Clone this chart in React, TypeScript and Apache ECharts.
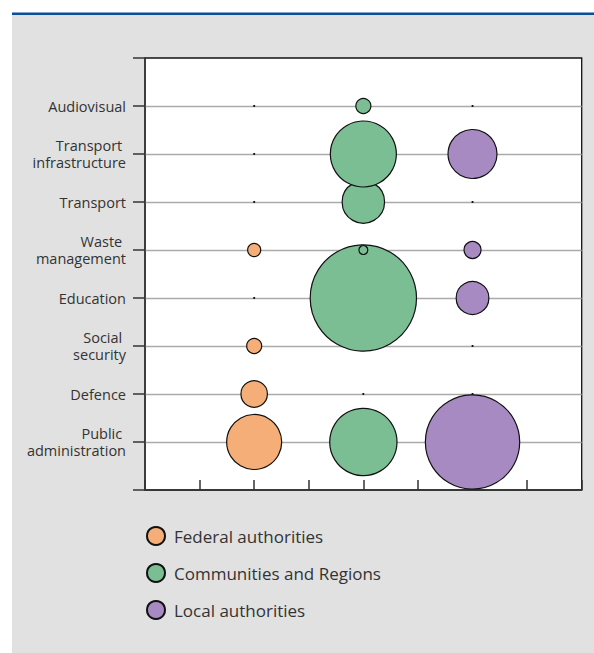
import React, { useEffect, useRef } from "react";
import * as echarts from "echarts";

// Categories listed top to bottom as displayed
const categories = [
  "Audiovisual",
  "Transport \ninfrastructure",
  "Transport",
  "Waste \nmanagement",
  "Education",
  "Social \nsecurity",
  "Defence",
  "Public \nadministration",
];

const seriesNames = ["Federal authorities", "Communities and Regions", "Local authorities"];
const seriesX = [2, 4, 6];

// Values per category (same order as categories); bubble area ~ value
const federalValues = [0, 0, 0, 1.7, 0, 2.25, 7.0, 30.3];
const communitiesValues = [2.25, 43.6, 18.0, 0.8, 113.0, 0, 0, 45.3];
const localValues = [0, 24.0, 0, 2.9, 10.7, 0, 0, 89.0];

const colors = ["#F6AE78", "#7BBE94", "#A78AC1"];

const FONT = "'Open Sans', 'Noto Sans', sans-serif";

export default function App() {
  const ref = useRef<HTMLDivElement>(null);

  useEffect(() => {
    if (!ref.current) return;
    const chart = echarts.init(ref.current, undefined, { renderer: "svg" });
    const all = [federalValues, communitiesValues, localValues];
    const n = categories.length;

    const series = all.map((vals, s) => {
      const data: number[][] = [];
      // draw from bottom row upward so upper bubbles sit on top
      for (let i = n - 1; i >= 0; i--) {
        data.push([seriesX[s], n - i, vals[i]]);
      }
      return {
        name: seriesNames[s],
        type: "scatter",
        data,
        symbol: "circle",
        symbolSize: (d: number[]) => Math.max(1, 10 * Math.sqrt(d[2])),
        itemStyle: {
          color: colors[s],
          borderColor: "#111",
          borderWidth: 1.2,
          opacity: 1,
        },
        emphasis: { disabled: true },
      };
    });

    chart.setOption({
      animation: false,
      backgroundColor: "#ffffff",
      textStyle: { fontFamily: FONT },
      graphic: [
        {
          type: "rect",
          shape: { x: 12, y: 15, width: 582, height: 638 },
          style: { fill: "#e1e1e1" },
          z: -10,
          silent: true,
        },
        {
          type: "rect",
          shape: { x: 12, y: 12.5, width: 582, height: 2.5 },
          style: { fill: "#0b4f9c" },
          z: -10,
          silent: true,
        },
      ],
      grid: {
        left: 145,
        top: 58,
        right: 12.3,
        bottom: 163,
        show: true,
        backgroundColor: "#ffffff",
        borderColor: "#111",
        borderWidth: 1.3,
        containLabel: false,
      },
      legend: {
        orient: "vertical",
        left: 141,
        top: 521,
        itemWidth: 18,
        itemHeight: 18,
        itemGap: 17,
        icon: "circle",
        selectedMode: false,
        textStyle: {
          fontFamily: FONT,
          fontSize: 17,
          color: "#333",
          padding: [0, 0, 0, 4],
        },
        data: seriesNames,
      },
      xAxis: {
        type: "value",
        min: 0,
        max: 8,
        interval: 1,
        axisLine: { show: true, lineStyle: { color: "#333", width: 1.5 } },
        axisTick: { show: true, inside: true, length: 10, lineStyle: { color: "#333", width: 1.5 } },
        axisLabel: { show: false },
        splitLine: { show: false },
      },
      yAxis: {
        type: "value",
        min: 0,
        max: 9,
        interval: 1,
        axisLine: { show: true, lineStyle: { color: "#333", width: 1.5 } },
        axisTick: { show: true, inside: false, length: 12, lineStyle: { color: "#333", width: 1.5 } },
        axisLabel: {
          margin: 19,
          fontFamily: FONT,
          fontSize: 14.5,
          lineHeight: 17.5,
          color: "#333",
          formatter: (v: number) => {
            const idx = n - v;
            return v >= 1 && v <= n ? categories[idx] : "";
          },
        },
        splitLine: {
          show: true,
          showMinLine: false,
          showMaxLine: false,
          lineStyle: { color: "#aaaaaa", width: 1.3 },
        },
      },
      series,
    });

    return () => chart.dispose();
  }, []);

  return (
    <div
      ref={ref}
      style={{ position: "fixed", left: 0, top: 0, width: 594, height: 653 }}
    />
  );
}
